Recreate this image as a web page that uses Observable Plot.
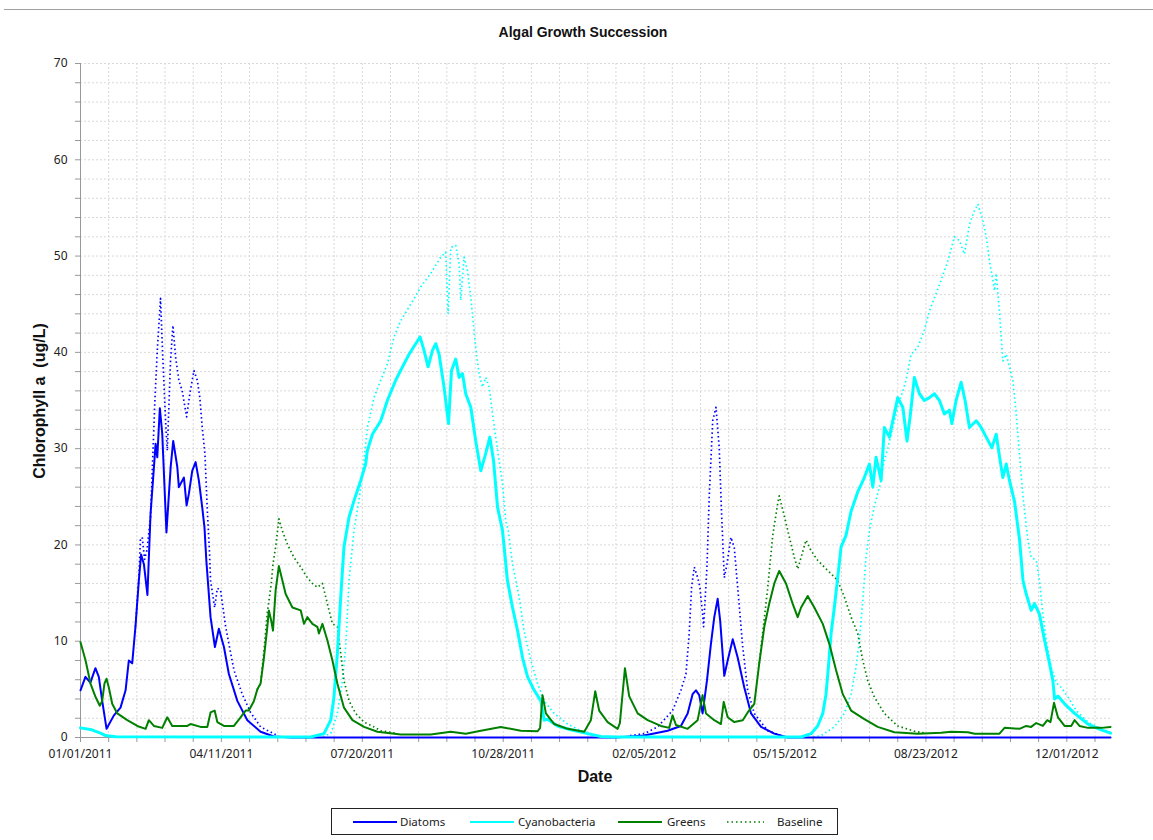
<!DOCTYPE html>
<html><head><meta charset="utf-8">
<script src="https://cdn.jsdelivr.net/npm/d3@7"></script>
<script src="https://cdn.jsdelivr.net/npm/@observablehq/plot@0.6"></script>
<style>
body{margin:0;background:#fff;}
#wrap{position:relative;width:1153px;height:840px;overflow:hidden;font-family:"Noto Sans",sans-serif;}
#rule{position:absolute;left:4px;right:0;top:9px;height:1px;background:#a0a0a0}
#title{position:absolute;left:0;width:1166px;top:24px;text-align:center;font:bold 14px "Liberation Sans",sans-serif;color:#111}
#chart{position:absolute;left:0;top:40px}
#ylabel{position:absolute;left:40px;top:401px;transform:translate(-50%,-50%) rotate(-90deg);white-space:pre;font:bold 16px "Liberation Sans",sans-serif;color:#111}
#xlabel{position:absolute;left:595px;top:777px;transform:translate(-50%,-50%);font:bold 16px "Liberation Sans",sans-serif;color:#111}
#legend{position:absolute;left:331px;top:808px;width:505px;height:25px;border:1px solid #222}
</style></head>
<body><div id="wrap">
<div id="rule"></div>
<div id="title">Algal Growth Succession</div>
<div id="chart"></div>
<div id="ylabel">Chlorophyll a  (ug/L)</div>
<div id="xlabel">Date</div>
<div id="legend"></div>
</div>
<script>
// ---- data (day offset from 01/01/2011, chlorophyll a ug/L) ----
const xTickLabels = ["01/01/2011","04/11/2011","07/20/2011","10/28/2011","02/05/2012","05/15/2012","08/23/2012","12/01/2012"];
const seriesNames = ["Diatoms","Cyanobacteria","Greens","Baseline"];

const diatoms = [[0,4.9],[3.5,6.3],[7,5.7],[10.6,7.2],[13,6.3],[15.4,3.8],[18.5,0.9],[23.7,2.3],[28.4,3.1],[32,4.9],[34.3,8.0],[36.7,7.7],[39,11.5],[41.4,16.3],[43,19.0],[45,18.0],[47.5,14.8],[49.7,23.2],[51.6,27.0],[53.3,30.5],[54.5,29.1],[56.3,34.2],[58,31.6],[61,21.3],[64,28.1],[65.8,30.8],[68.7,28.1],[69.8,26.0],[73.4,27.0],[75.3,24.1],[76.9,25.3],[79.3,27.7],[81.7,28.6],[84,26.7],[86.4,23.9],[88,21.8],[89.3,18.4],[92.3,12.5],[95.4,9.4],[98.2,11.3],[101.8,9.4],[105.3,6.6],[111.3,3.8],[118.4,1.8],[127.8,0.6],[137.3,0.1],[150,0],[380,0],[400,0.2],[416.7,0.7],[426.1,1.2],[430.9,2.5],[434.4,4.5],[436.8,4.9],[439.1,4.4],[441.5,2.5],[444.6,5.9],[447.4,9.7],[449.8,12.5],[452.2,14.4],[454,12.1],[456.9,6.4],[459.3,8.0],[462.9,10.2],[466.4,8.3],[471.1,5.2],[475.9,2.5],[483,1.1],[492.4,0.4],[501.9,0],[731,0]];

const cyanobacteria = [[0,1.0],[8,0.8],[14.2,0.45],[17.8,0.2],[25,0.08],[163.4,0.05],[172.8,0.4],[177.6,1.8],[179.9,4.2],[182.3,8.7],[184.7,14.6],[187,19.8],[190.6,22.9],[194.1,24.6],[198.9,26.7],[202.4,28.4],[203.6,29.8],[207.2,31.5],[213.1,32.9],[217.8,35.0],[223.7,37.1],[228.5,38.5],[233.2,39.8],[237.9,40.9],[241,41.6],[243.8,40.2],[246.7,38.5],[249.8,40.2],[252.1,40.9],[254.5,39.8],[258,36.4],[261.2,32.6],[263.3,38.1],[266.3,39.3],[268.7,37.4],[271.1,37.8],[273.4,35.7],[277,34.3],[280.5,30.8],[284.1,27.7],[287.6,29.5],[290.5,31.2],[293.1,28.8],[296,23.9],[299.5,21.5],[303,16.3],[306.6,13.5],[310.2,11.1],[313.7,8.3],[317.3,6.3],[322,4.9],[326.7,3.8],[329.1,1.8],[331.5,1.9],[338.6,1.2],[348,0.8],[359.9,0.4],[369.3,0.1],[380,0.05],[511.4,0.05],[518.5,0.4],[523.2,1.2],[526.8,2.5],[529.1,4.5],[530.8,7.3],[532.7,10.8],[535,13.5],[537.4,16.6],[539.8,19.8],[543.3,21],[546.9,23.5],[551.6,25.5],[556.3,27.0],[559.9,28.4],[562.3,26.0],[564.6,29.1],[568.2,26.7],[570.5,32.2],[574.1,31.2],[576.5,32.9],[580,35.3],[583.6,34.3],[586.6,30.8],[589,33.6],[591.8,37.4],[595.4,35.7],[598.9,35.0],[602.5,35.3],[606,35.7],[609.6,35.0],[613.1,33.6],[616.7,34.0],[618.4,32.6],[621.4,35.0],[625,36.9],[627.8,35.0],[630.9,32.2],[635.7,32.9],[639.2,32.2],[642.8,31.2],[646.8,30.1],[649.9,31.5],[652.3,29.1],[654.6,27.0],[657,28.4],[659.3,26.7],[662.9,24.5],[666.4,20.6],[668.9,16.3],[671.2,14.9],[674.7,13.2],[677.1,13.9],[680.6,12.8],[684.2,10.1],[687.7,7.7],[690.1,5.9],[691.3,4.0],[693.7,4.3],[698.4,3.5],[705.5,2.5],[715,1.4],[724.4,0.8],[731,0.45]];

const greens = [[0,9.9],[3.6,8.0],[7.1,5.6],[10.7,4.2],[13.7,3.3],[15.4,3.8],[17,5.6],[18.5,6.1],[20.1,5.2],[22.5,3.5],[26.1,2.5],[33.2,1.8],[40.3,1.2],[46.2,0.9],[48.5,1.8],[52.1,1.2],[58,1.0],[61.6,2.1],[65.1,1.2],[75.8,1.2],[78.1,1.4],[85.2,1.1],[90,1.1],[92.3,2.6],[95.2,2.8],[97.1,1.6],[101.8,1.2],[108.9,1.2],[113.6,2.1],[117.2,2.8],[119.5,2.8],[123.1,3.8],[125.5,5.0],[127.8,5.6],[130.2,8.3],[132.6,11.5],[133.7,13.2],[135.4,12.1],[136.6,11.1],[138.5,15.3],[140.8,17.8],[145.6,14.9],[150.4,13.5],[156.3,13.2],[158.6,11.8],[161,12.5],[164.6,11.8],[168.1,11.5],[169.2,10.8],[171.7,11.8],[175.2,10.1],[178.8,8.0],[182.3,5.6],[187,3.1],[193,1.8],[201.2,1.1],[210.7,0.6],[227.3,0.3],[248.6,0.3],[262.8,0.6],[273.4,0.4],[284.1,0.7],[298.3,1.1],[312.5,0.7],[324.4,0.65],[326.2,1.0],[327.9,4.4],[330.3,2.5],[336.2,1.4],[345.7,0.9],[357.5,0.6],[362.2,1.8],[365.3,4.8],[368.1,2.8],[374.1,1.6],[381.2,0.9],[382.8,1.5],[386.4,7.2],[389.4,4.3],[395.4,2.5],[402.5,1.8],[411.9,1.2],[417.8,1.0],[420.2,2.3],[422.6,1.3],[430.9,0.9],[438,1.8],[441.5,4.4],[443.9,2.5],[449.8,1.8],[454.5,1.4],[456.5,3.7],[459.3,2.1],[464,1.6],[470,1.8],[473.5,2.6],[478.2,3.5],[481.7,7.7],[485.3,11.5],[488.8,13.9],[492.4,16.0],[495.9,17.3],[500.7,16.0],[505.4,13.9],[509,12.5],[511.4,13.5],[516.1,14.7],[520.8,13.5],[526.8,11.8],[531.5,9.7],[536.2,7.0],[541,4.5],[546.9,2.8],[556.3,1.9],[565.8,1.1],[577.6,0.55],[594.2,0.4],[610.8,0.5],[617.9,0.6],[629.8,0.55],[634.6,0.4],[652.2,0.4],[655.8,1.0],[666.4,0.9],[671.2,1.2],[674.7,1.1],[678.3,1.5],[683,1.2],[686.1,1.8],[688.4,1.6],[690.9,3.6],[693.7,2.1],[698.4,1.2],[703.1,1.2],[705.5,1.8],[709,1.2],[715,1.0],[724.4,1.0],[731,1.1]];

// baselines (dotted); null splits the separate blooms
const baselineDiatoms = [[39,11.5],[41.4,16.5],[42.5,20.5],[43.8,20.8],[45.5,18.5],[47.2,19.5],[49.7,22.9],[52.8,35.0],[54.5,40.2],[56.8,45.6],[58.5,39.1],[60.4,32.9],[61.6,29.8],[63.9,39.1],[65.6,42.8],[67.5,39.5],[69.8,37.1],[72.2,36.0],[75.3,33.3],[77.6,35.7],[80.5,38.1],[82.9,37.1],[84.7,35.3],[86.4,32.2],[88.3,29.5],[90,23.6],[91.6,19.1],[92.3,16.3],[95.2,13.5],[97.1,15.5],[99.4,15.3],[103,11.5],[108.9,7.0],[114.8,4.5],[120.7,2.6],[127.8,1.1],[139.7,0.2],[150,null],[390,0.2],[400.1,0.4],[409.6,1.1],[420.2,2.8],[426.1,4.9],[429.7,6.6],[432,10.8],[433.7,15.6],[435.6,17.7],[438,16.6],[439.6,15.6],[441.5,12.8],[442.2,11.5],[444.6,17.7],[446.2,25.0],[448.7,32.9],[451,34.3],[453.3,30.1],[455,23.2],[456.9,16.6],[458.8,18.0],[461.6,20.8],[464,19.7],[466.4,15.6],[470,9.4],[473.5,4.9],[478.2,2.5],[487.7,0.7],[497.2,0.2]];

const baselineCyano = [[172,0.1],[177.6,0.4],[182.3,2.5],[185.9,5.9],[188.2,9.4],[190.6,16.3],[194.1,21.5],[198,25],[201,28.5],[203.6,32.2],[208.3,35.3],[213.1,37.1],[217.8,38.8],[222.5,41.6],[227.3,43.3],[234.4,45.0],[241.5,46.8],[248.6,48.2],[255.7,49.9],[259.2,50.4],[260.9,44.0],[262.8,50.9],[266.3,51.1],[268.7,49.2],[269.9,45.4],[272.2,49.9],[274.6,48.5],[277,45.7],[279.3,42.3],[281,39.8],[282.9,37.8],[285.3,36.4],[287.6,37.4],[290,36.4],[292.4,33.6],[294.7,31.2],[297.1,28.8],[299.5,26.3],[301.8,22.5],[303.6,21.5],[306.6,18.0],[311.3,14.6],[314.8,11.1],[319.6,8.0],[324.4,5.6],[329,3.8],[336.2,2.5],[345.7,1.4],[355.1,0.7],[367,0.2],[380,null],[520,0.05],[525.6,0.2],[535,1.1],[542.1,2.5],[546.9,4.5],[550.4,7.3],[552.8,10.1],[555.2,14.2],[557.5,18.7],[559.9,21.5],[563.4,24.0],[568.2,26.7],[569.4,28.1],[573,30.1],[580,34.3],[585.9,37.1],[589.5,39.8],[594.2,40.5],[598.9,42.3],[602.5,44.3],[606.1,45.7],[610.8,47.5],[615.6,49.5],[620.2,52.0],[623.8,51.6],[627.3,50.2],[630.9,53.3],[634.4,54.7],[636.9,55.4],[640.4,53.7],[642.8,52.0],[645.1,49.5],[647.5,47.5],[648.7,46.4],[649.9,48.2],[652.3,44.0],[653.4,41.6],[654.6,39.1],[657,39.8],[659.3,38.5],[661.7,37.1],[664.1,33.6],[666.4,29.4],[668.9,25],[672.4,20.5],[674.7,18.7],[678.3,18.4],[680.6,16.3],[683,12.8],[685.4,10.1],[688.9,7.3],[692.5,5.7],[696,5.2],[700.8,4.2],[706.7,2.8],[715,1.6],[724.4,0.9],[731,0.55]];

const baselineGreens = [[125.5,5.0],[127.8,5.6],[130.2,9],[132.6,13],[135.4,16],[136.6,18.0],[138.5,19.8],[140.8,22.7],[143.2,21.5],[146.7,20.1],[151.5,18.7],[156.3,17.7],[161,16.6],[164.6,16.0],[168.1,15.6],[171.7,16.0],[175.2,13.9],[178.8,11.8],[182.3,11.5],[184.7,8.7],[187,5.9],[190.6,3.8],[195.3,2.5],[201.2,1.6],[208.3,1.1],[213.1,0.7],[225,0.4],[240,null],[481.7,7.7],[483,9.4],[487.7,15.5],[491.3,21],[494.8,24.3],[495.9,25.1],[499.5,23],[503.1,20.8],[506.6,18.7],[509,17.5],[511.4,18.7],[514.9,20.5],[518.5,19.4],[523.2,18.4],[527.9,17.7],[532.7,17.0],[537.4,16.3],[542.1,14.6],[546.9,12.5],[551.6,10.8],[555.2,8.0],[558.7,5.9],[563.4,4.2],[570.5,2.5],[580,1.2],[591.8,0.65],[600,0.45]];

const colors = {Diatoms:"#0000ff", Cyanobacteria:"#00ffff", Greens:"#008000"};

// ---- build ----
const start = Date.UTC(2011,0,1);
const toDate = d => new Date(start + d*864e5);
const rows = (pairs) => pairs.map(([d,v]) => ({date: toDate(d), value: v == null ? NaN : v}));

const gridDays = d3.range(20, 731, 20);
const tickDays = d3.range(0, 731, 20);
const yGrid = d3.range(2, 71, 2);

const dotted = {strokeWidth:1.7, strokeDasharray:"1.5,2.8", strokeLinecap:"butt"};

const chart = Plot.plot({
  width:1153, height:760, marginTop:23, marginBottom:63, marginLeft:80, marginRight:43,
  x:{type:"utc", domain:[toDate(0), toDate(731)]},
  y:{domain:[0,70]},
  style:{fontFamily:"'Noto Sans', sans-serif", fontSize:"12px", color:"#222", background:"transparent"},
  marks:[
    Plot.ruleY(yGrid, {stroke:"#d9d9d9", strokeDasharray:"2,2"}),
    Plot.ruleX(gridDays.map(toDate), {stroke:"#d9d9d9", strokeDasharray:"2,2"}),
    Plot.axisY({ticks:d3.range(0,71,2), tickSize:5, tickPadding:8, stroke:"#999", fill:"#222",
      tickFormat:d => d % 10 === 0 ? String(d) : "", label:null}),
    Plot.axisX({ticks:tickDays.map(toDate), tickSize:5, tickPadding:7, stroke:"#999", fill:"#222",
      tickFormat:d => { const k = Math.round((d - start)/864e5); return k % 100 === 0 ? xTickLabels[k/100] : ""; }, label:null}),
    Plot.ruleX([toDate(0)], {stroke:"#999"}),
    Plot.ruleY([0], {stroke:"#999"}),
    Plot.line(rows(baselineDiatoms), {x:"date", y:"value", stroke:colors.Diatoms, ...dotted}),
    Plot.line(rows(baselineCyano), {x:"date", y:"value", stroke:colors.Cyanobacteria, ...dotted}),
    Plot.line(rows(baselineGreens), {x:"date", y:"value", stroke:colors.Greens, ...dotted}),
    Plot.line(rows(diatoms), {x:"date", y:"value", stroke:colors.Diatoms, strokeWidth:2}),
    Plot.line(rows(cyanobacteria), {x:"date", y:"value", stroke:colors.Cyanobacteria, strokeWidth:3}),
    Plot.line(rows(greens), {x:"date", y:"value", stroke:colors.Greens, strokeWidth:2})
  ]
});
document.getElementById("chart").appendChild(chart);

// ---- legend ----
const legendItems = [
  {name:seriesNames[0], color:colors.Diatoms, x1:21, x2:65, tx:68, dash:null},
  {name:seriesNames[1], color:colors.Cyanobacteria, x1:138, x2:182, tx:186, dash:null},
  {name:seriesNames[2], color:colors.Greens, x1:286, x2:330, tx:335, dash:null},
  {name:seriesNames[3], color:colors.Greens, x1:395, x2:432, tx:445, dash:"1.5,3"}
];
const ns = "http://www.w3.org/2000/svg";
const lsvg = document.createElementNS(ns, "svg");
lsvg.setAttribute("width", 505); lsvg.setAttribute("height", 25);
for (const it of legendItems) {
  const l = document.createElementNS(ns, "line");
  l.setAttribute("x1", it.x1); l.setAttribute("x2", it.x2);
  l.setAttribute("y1", 13); l.setAttribute("y2", 13);
  l.setAttribute("stroke", it.color); l.setAttribute("stroke-width", it.dash ? 1.6 : 2);
  if (it.dash) l.setAttribute("stroke-dasharray", it.dash);
  lsvg.appendChild(l);
  const t = document.createElementNS(ns, "text");
  t.setAttribute("x", it.tx); t.setAttribute("y", 17);
  t.setAttribute("font-family", "'Noto Sans', sans-serif"); t.setAttribute("font-size", 11.5);
  t.setAttribute("fill", "#222");
  t.textContent = it.name;
  lsvg.appendChild(t);
}
document.getElementById("legend").appendChild(lsvg);
</script>
</body></html>
